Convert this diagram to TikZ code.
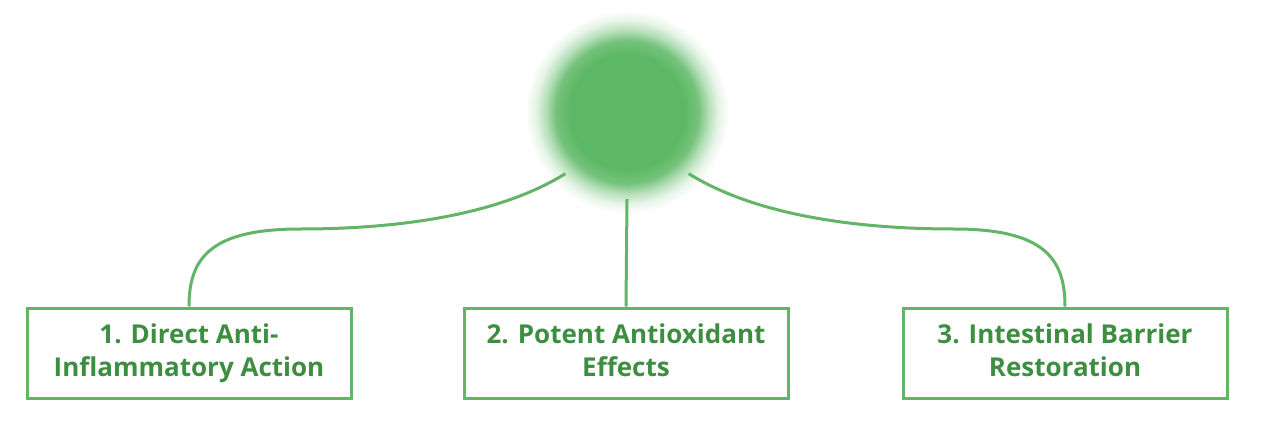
\documentclass[tikz,border=0pt]{standalone}
\usepackage{fontspec}
\setmainfont{Open Sans}
\definecolor{glowgreen}{HTML}{5CB864}
\definecolor{linegreen}{HTML}{62B567}
\definecolor{textgreen}{HTML}{3E8E42}
\pgfdeclareradialshading{glow}{\pgfpoint{0bp}{0bp}}{color(0bp)=(glowgreen); color(14bp)=(glowgreen); color(17.5bp)=(glowgreen!85!white); color(20bp)=(glowgreen!45!white); color(22.5bp)=(glowgreen!15!white); color(25bp)=(white); color(50bp)=(white)}
\tikzset{
    effectbox/.style={draw=linegreen, line width=3pt, minimum width=324pt, minimum height=90pt,
        inner sep=0pt, align=center, text=textgreen, font=\bfseries\fontsize{26}{33}\selectfont},
    branch/.style={linegreen, line width=3pt}
}

\begin{document}
\begin{tikzpicture}[x=1pt, y=1pt]
    \fill[white] (0, 0) rectangle (1280, -423);
    \useasboundingbox (0, 0) rectangle (1280, -423);

    % Central glow
    \node[circle, minimum size=174pt, inner sep=0pt] (hub) at (627, -112) {};
    \shade[shading=glow] (hub.center) circle (102);

    % Three effects
    \node[effectbox, text depth=6pt] (direct) at (189, -353) {1. Direct Anti-\\Inflammatory Action};
    \node[effectbox, text depth=6pt] (antiox) at (626, -353) {2. Potent Antioxidant\\Effects};
    \node[effectbox, text depth=6pt] (barrier) at (1065, -353) {3. Intestinal Barrier\\Restoration};

    % Branches
    \coordinate (lbend) at (300, -229);
    \coordinate (rbend) at (954, -229);
    \draw[branch] (hub.225) .. controls +(-66, -41) and +(100, 0) .. (lbend)
        .. controls +(-90, 0) and +(0, 48) .. (direct.north);
    \draw[branch] (hub.south) -- (antiox.north);
    \draw[branch] (hub.-45) .. controls +(66, -41) and +(-100, 0) .. (rbend)
        .. controls +(90, 0) and +(0, 48) .. (barrier.north);
\end{tikzpicture}
\end{document}
